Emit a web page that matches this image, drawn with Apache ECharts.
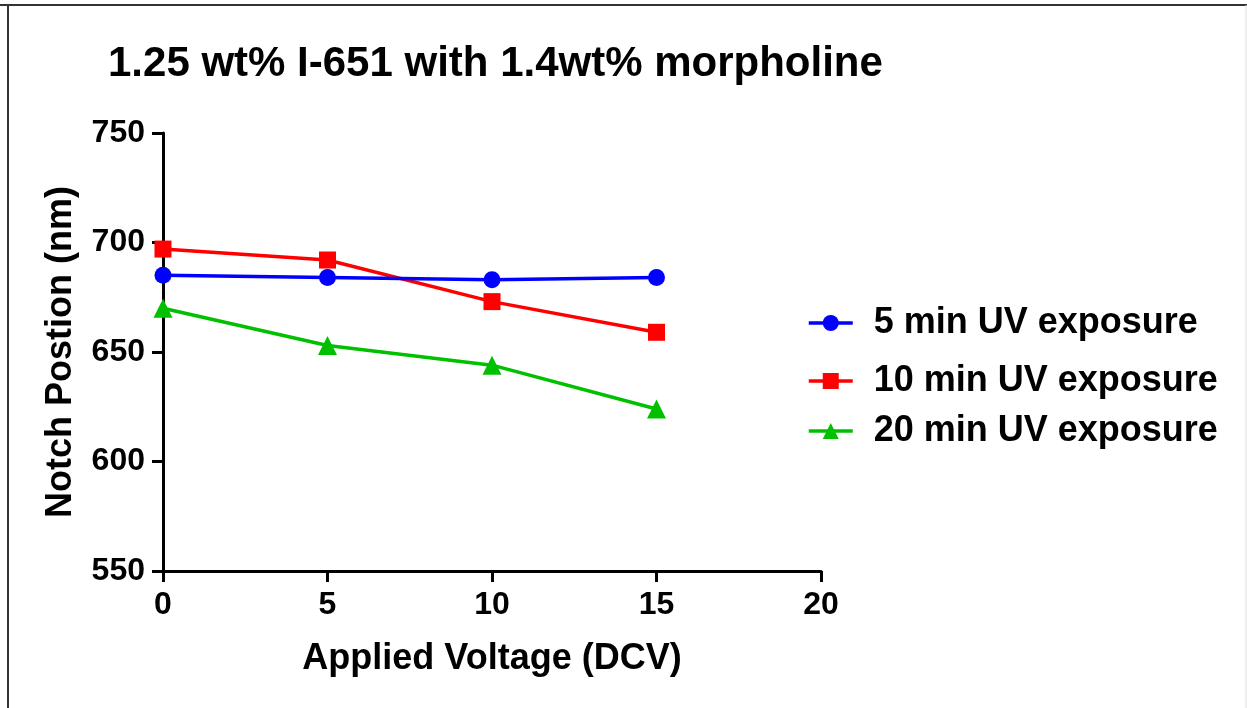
<!DOCTYPE html>
<html>
<head>
<meta charset="utf-8">
<script src="https://cdn.jsdelivr.net/npm/echarts@6/dist/echarts.min.js"></script>
<style>
html,body{margin:0;padding:0;background:#fff;}
#chart{width:1247px;height:708px;}
</style>
</head>
<body>
<div id="chart"></div>
<script>
var voltages = [0, 5, 10, 15];
var seriesNames = ['5 min UV exposure', '10 min UV exposure', '20 min UV exposure'];
var uv5 = [685, 684, 683, 684];
var uv10 = [697, 692, 673, 659];
var uv20 = [670, 653, 644, 624];
var yTicks = [550, 600, 650, 700, 750];
var xTicks = [0, 5, 10, 15, 20];

function pairs(vals) {
  return voltages.map(function (v, i) { return [v, vals[i]]; });
}

var FONT = 'Liberation Sans, Arial, sans-serif';
var chart = echarts.init(document.getElementById('chart'));

var legendBase = function (name, top) {
  return {
    data: [name],
    left: 802,
    top: top,
    itemWidth: 44,
    itemHeight: 20,
    lineStyle: { width: 3.5 },
    textStyle: { fontFamily: FONT, fontWeight: 'bold', fontSize: 36, color: '#000', padding: [0, 0, 0, 16] }
  };
};

chart.setOption({
  animation: false,
  backgroundColor: '#fff',
  title: {
    text: '1.25 wt% I-651 with 1.4wt% morpholine',
    left: 103,
    top: 38,
    textStyle: { fontFamily: FONT, fontWeight: 'bold', fontSize: 42, color: '#000' }
  },
  graphic: [
    { type: 'line', shape: { x1: 0, y1: 5, x2: 1247, y2: 5 }, style: { stroke: '#333', lineWidth: 2 } },
    { type: 'line', shape: { x1: 8, y1: 5, x2: 8, y2: 708 }, style: { stroke: '#333', lineWidth: 2 } },
    { type: 'line', shape: { x1: 1246, y1: 5, x2: 1246, y2: 708 }, style: { stroke: '#ddd', lineWidth: 1 } }
  ],
  legend: [
    legendBase(seriesNames[0], 300),
    legendBase(seriesNames[1], 358),
    legendBase(seriesNames[2], 408)
  ],
  grid: { left: 163, right: 426, top: 133, bottom: 137 },
  xAxis: {
    type: 'value',
    min: 0, max: 20, interval: 5,
    name: 'Applied Voltage (DCV)',
    nameLocation: 'middle',
    nameGap: 70,
    nameTextStyle: { fontFamily: FONT, fontWeight: 'bold', fontSize: 36, color: '#000' },
    axisLine: { lineStyle: { color: '#000', width: 3 } },
    axisTick: { length: 11, lineStyle: { color: '#000', width: 3 } },
    axisLabel: { fontFamily: FONT, fontWeight: 'bold', fontSize: 32, color: '#000', margin: 18 },
    splitLine: { show: false }
  },
  yAxis: {
    type: 'value',
    min: 550, max: 750, interval: 50,
    name: 'Notch Postion (nm)',
    nameLocation: 'middle',
    nameGap: 84,
    nameTextStyle: { fontFamily: FONT, fontWeight: 'bold', fontSize: 36, color: '#000' },
    axisLine: { show: true, lineStyle: { color: '#000', width: 3 } },
    axisTick: { show: true, length: 11, lineStyle: { color: '#000', width: 3 } },
    axisLabel: { fontFamily: FONT, fontWeight: 'bold', fontSize: 32, color: '#000', margin: 18 },
    splitLine: { show: false }
  },
  series: [
    {
      name: seriesNames[0], type: 'line', data: pairs(uv5),
      symbol: 'circle', symbolSize: 17,
      itemStyle: { color: '#0000ff' }, lineStyle: { color: '#0000ff', width: 3.5 }, z: 4
    },
    {
      name: seriesNames[1], type: 'line', data: pairs(uv10),
      symbol: 'rect', symbolSize: 17,
      itemStyle: { color: '#ff0000' }, lineStyle: { color: '#ff0000', width: 3.5 }, z: 3
    },
    {
      name: seriesNames[2], type: 'line', data: pairs(uv20),
      symbol: 'triangle', symbolSize: 19,
      itemStyle: { color: '#00c000' }, lineStyle: { color: '#00c000', width: 3.5 }, z: 5
    }
  ]
});
</script>
</body>
</html>
